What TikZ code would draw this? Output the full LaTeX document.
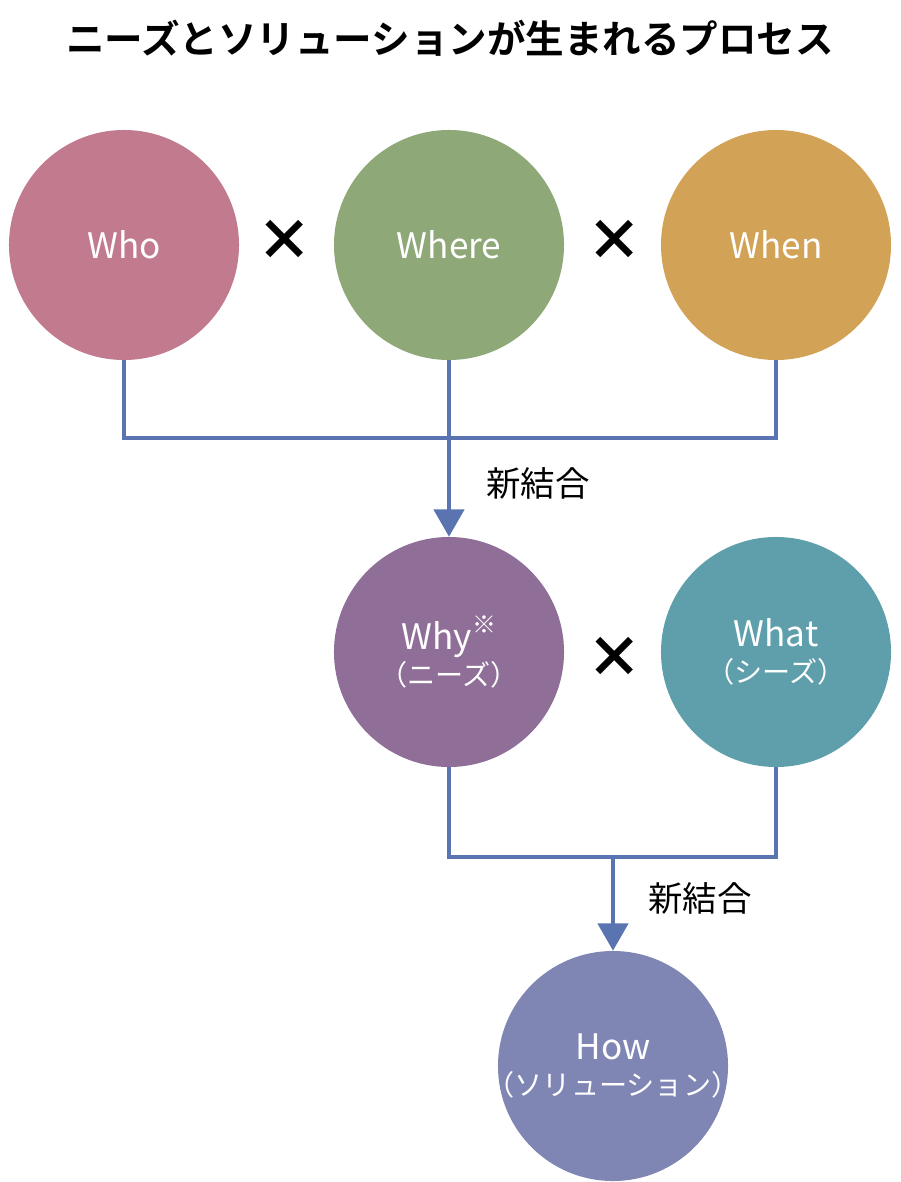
\documentclass[tikz,border=0pt]{standalone}
\usepackage{fontspec}
\setmainfont{Noto Sans CJK JP}
\newfontfamily\jpbold{Noto Sans CJK JP Bold}
\usetikzlibrary{arrows.meta}

\definecolor{cwho}{HTML}{C27A8F}
\definecolor{cwhere}{HTML}{8FA878}
\definecolor{cwhen}{HTML}{D2A356}
\definecolor{cwhy}{HTML}{8F6E97}
\definecolor{cwhat}{HTML}{5F9FAB}
\definecolor{chow}{HTML}{8086B4}
\definecolor{cline}{HTML}{5A74B1}

\tikzset{
  ball/.style={circle, minimum size=5.75cm, inner sep=0pt, text=white,
    align=center, font=\fontsize{25}{28}\selectfont},
  link/.style={draw=cline, line width=3pt},
  flow/.style={link, -{Triangle[width=0.75cm,length=0.68cm]}},
  times/.style={font=\fontsize{40}{40}\selectfont\bfseries},
  merge/.style={font=\fontsize{24.5}{28}\selectfont}
}
\newcommand{\sub}[1]{\makebox[0pt]{\fontsize{20}{24}\selectfont #1}}

\begin{document}
\begin{tikzpicture}[x=0.025cm, y=-0.025cm]
  \useasboundingbox (0,0) rectangle (900,1182);

  \node[font=\jpbold\fontsize{27.4}{30}\selectfont] (title) at (450,38)
    {ニーズとソリューションが生まれるプロセス};

  % first row
  \node[ball, fill=cwho]   (who)   at (124,245) {Who};
  \node[ball, fill=cwhere] (where) at (449,245) {Where};
  \node[ball, fill=cwhen]  (when)  at (776,245) {When};
  \node[times] (x1) at (285,240) {×};
  \node[times] (x2) at (615,240) {×};

  % second row
  \node[ball, fill=cwhy]  (why)  at (449,652) {Why\raisebox{0.45em}{\fontsize{17}{17}\selectfont ※}\\[-2pt]\sub{（ニーズ）}};
  \node[ball, fill=cwhat] (what) at (776,652) {What\\[-2pt]\sub{（シーズ）}};
  \node[times] (x3) at (615,657) {×};

  % last
  \node[ball, fill=chow] (how) at (613,1066) {How\\[-2pt]\sub{（ソリューション）}};

  \coordinate (j1) at (449,438);
  \coordinate (j2) at (613,857);

  \draw[link] (who.south) |- (j1) -| (when.south);
  \draw[flow] (where.south) -- (why.north);
  \node[merge] (n1) at (538,483) {新結合};

  \draw[link] (why.south) |- (j2) -| (what.south);
  \draw[flow] (j2) -- (how.north);
  \node[merge] (n2) at (700,898) {新結合};
\end{tikzpicture}
\end{document}
